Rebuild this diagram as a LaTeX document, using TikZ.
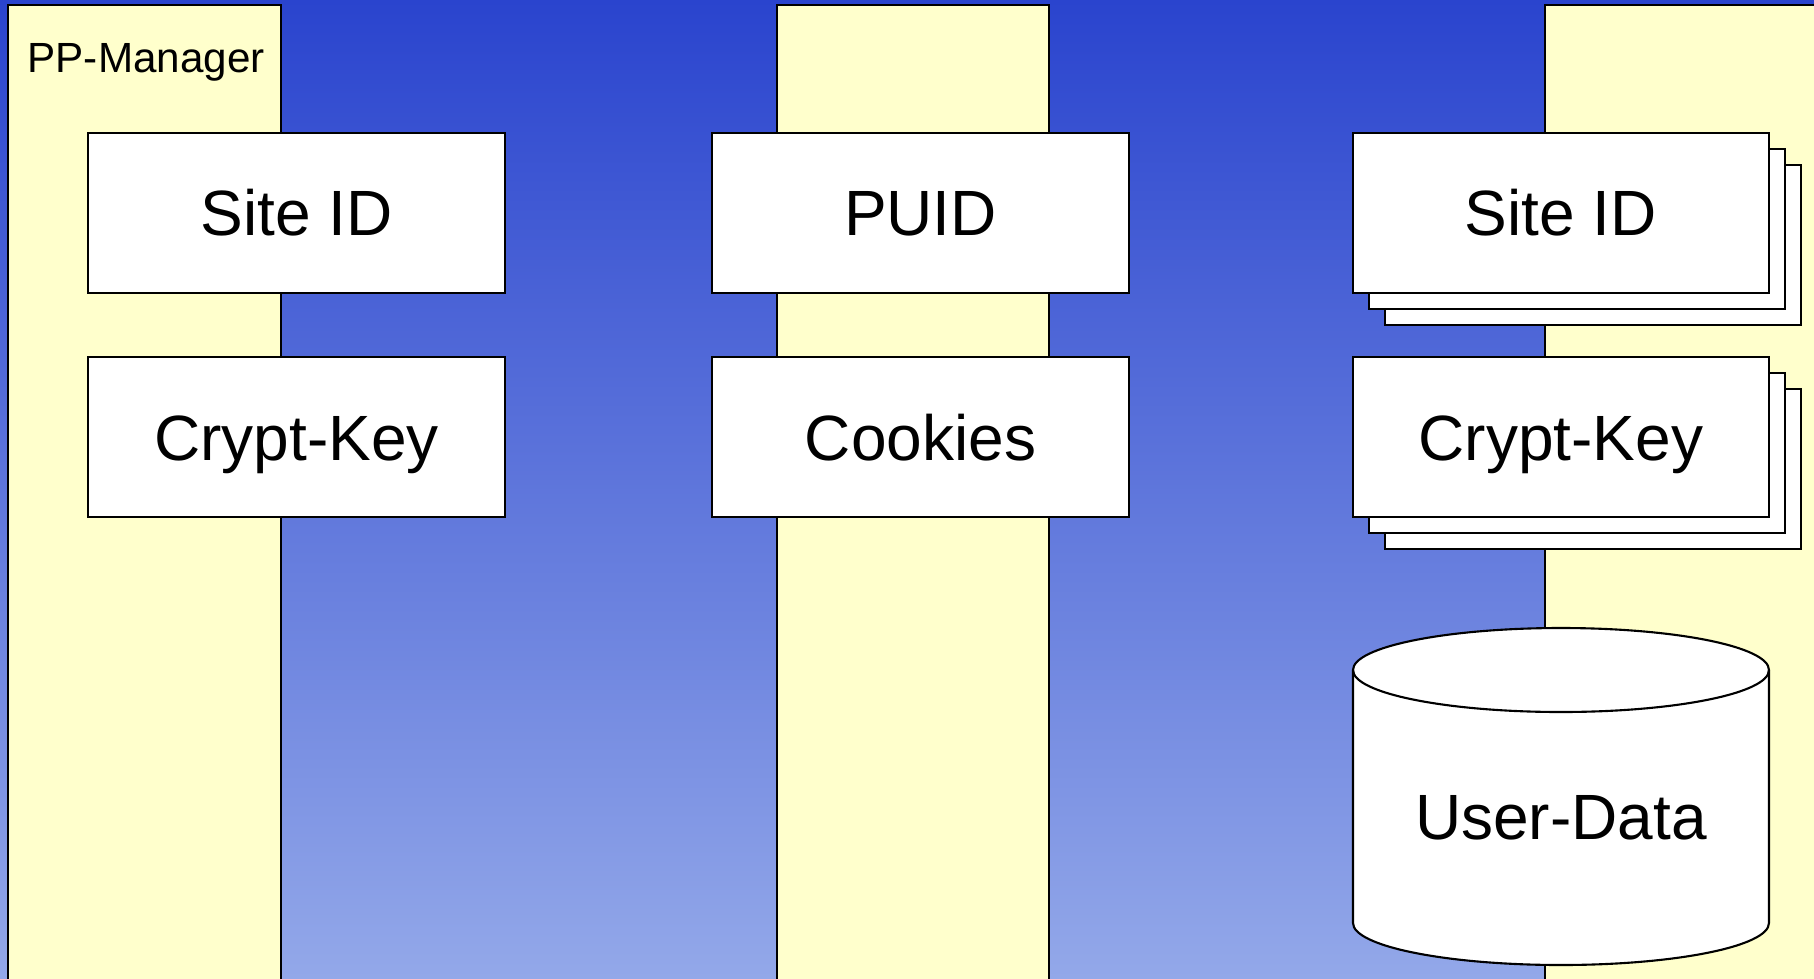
\documentclass[tikz,border=0pt]{standalone}
\usepackage{fontspec}
\setmainfont{Liberation Sans}
\usepackage{tikz}
\usetikzlibrary{positioning}
\definecolor{bgtop}{RGB}{42,68,206}
\definecolor{bgbottom}{RGB}{147,168,233}
\definecolor{colfill}{RGB}{255,255,204}
\tikzset{x=0.01cm,y=0.01cm,node distance=2.24cm,
  column/.style={fill=colfill,draw=black,line width=0.6pt},
  drum/.style={fill=white,draw=black,line width=0.6pt},
  bigtext/.style={font=\fontsize{18.2}{22}\selectfont,text height=13.05pt,text depth=0pt},
  box/.style={drum,bigtext,minimum width=4.16cm,minimum height=1.6cm,inner sep=0pt}}

\begin{document}
\begin{tikzpicture}
\useasboundingbox (0,0) rectangle (1814,-978);
\clip (0,0) rectangle (1814,-978);
\shade[top color=bgtop,bottom color=bgbottom] (0,0) rectangle (1814,-978);
% the three columns
\draw[column] (8,-5) rectangle (281,-1000);
\draw[column] (777,-5) rectangle (1049,-1000);
\draw[column] (1545,-5) rectangle (1830,-1000);
\node[anchor=base west,inner sep=0pt,font=\fontsize{12}{14}\selectfont] (mgr) at (27,-72) {PP-Manager};
\node[box] (siteL) at (296.5,-213) {Site ID};
\node[box, below of=siteL] (keyL) {Crypt-Key};
\node[box] (puid) at (920.5,-213) {PUID};
\node[box, below of=puid] (cookies) {Cookies};
% stacked copies behind
\foreach \d in {32,16} {
  \node[box] (siteR\d) at (1561+\d,-213-\d) {};
  \node[box, below of=siteR\d] (keyR\d) {};
}
\node[box] (siteR) at (1561,-213) {Site ID};
\node[box, below of=siteR] (keyR) {Crypt-Key};
% database
\draw[drum] (1353,-670) -- (1353,-923) arc[start angle=180,end angle=360,x radius=208,y radius=42]
  -- (1769,-670) arc[start angle=0,end angle=180,x radius=208,y radius=42] -- cycle;
\draw[drum,fill=none] (1353,-670) arc[start angle=180,end angle=360,x radius=208,y radius=42];
\node[bigtext] (data) at (1561,-817) {User-Data};
\end{tikzpicture}
\end{document}
